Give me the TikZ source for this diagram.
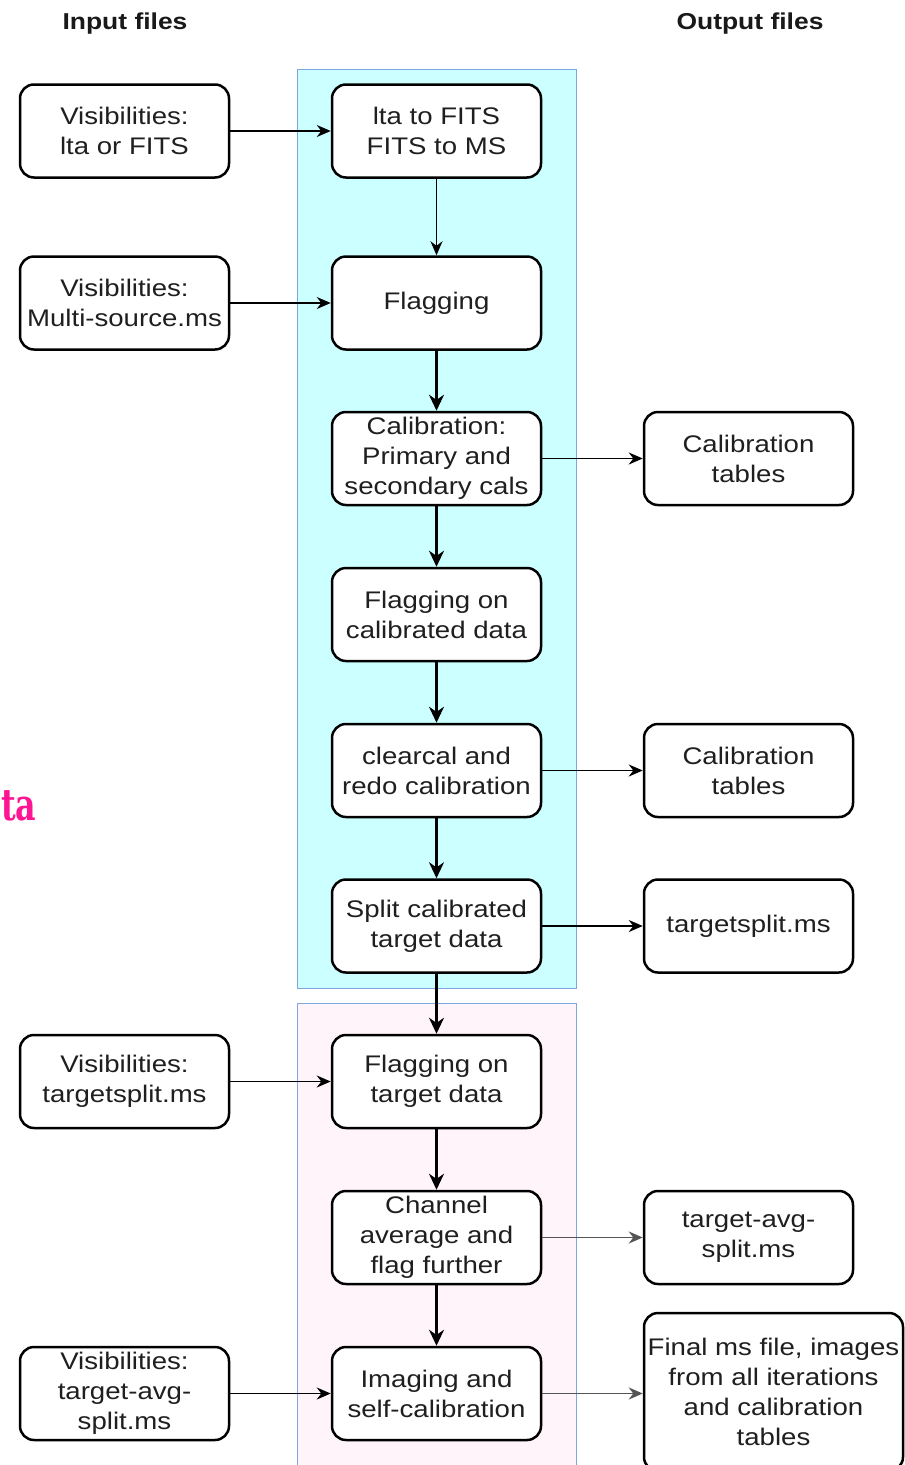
\documentclass[tikz,border=0pt]{standalone}
\usepackage{fontspec}
\setmainfont{Liberation Sans}[FakeStretch=1.15]
\newfontfamily\slabfont{DejaVu Serif}[FakeStretch=0.72]
\usetikzlibrary{arrows.meta}
\definecolor{cyanbg}{HTML}{CCFFFF}
\definecolor{pinkbg}{HTML}{FFF4FA}
\definecolor{grpline}{HTML}{7EA6E0}
\definecolor{magentatxt}{HTML}{FF1493}
\definecolor{grayarr}{HTML}{555555}
\begin{document}
\begin{tikzpicture}[x=1pt,y=-1pt,
  box/.style={draw=black, line width=2.5pt, rounded corners=14pt, fill=white,
    minimum width=209pt, minimum height=93pt, inner sep=0pt, align=center,
    font=\fontsize{24}{30}\selectfont, text=black!88},
  thinarr/.style={line width=1.6pt, -{Stealth[length=14pt,width=12pt]}},
  thickarr/.style={line width=3pt, -{Stealth[length=16pt,width=15pt]}},
  grayarrow/.style={thinarr, draw=grayarr},
  header/.style={font=\fontsize{23}{27}\selectfont\bfseries, text=black!90},
  group/.style={draw=grpline, line width=1pt}
]
\useasboundingbox (0,0) rectangle (905,1465);
\fill[white] (0,0) rectangle (905,1465);

% group backgrounds
\draw[group, fill=cyanbg] (297,69) rectangle (576,988);
\draw[group, fill=pinkbg] (297,1003) rectangle (576,1480);

% headers
\node[header] (hin) at (125,24) {Input files};
\node[header] (hout) at (750,24) {Output files};

% magenta text at the left edge
\node[anchor=west, inner sep=0pt, text=magentatxt, font=\fontsize{44}{50}\slabfont\bfseries] (cut) at (1,806) {ta};

% left column
\node[box] (L1) at (124.5,131) {Visibilities:\\lta or FITS};
\node[box] (L2) at (124.5,303) {Visibilities:\\Multi-source.ms};
\node[box] (L3) at (124.5,1081.5) {Visibilities:\\targetsplit.ms};
\node[box] (L4) at (124.5,1393.5) {Visibilities:\\target-avg-\\split.ms};

% middle column
\node[box] (M1) at (436.5,131) {lta to FITS\\FITS to MS};
\node[box] (M2) at (436.5,303) {Flagging};
\node[box] (M3) at (436.5,458.5) {Calibration:\\Primary and\\secondary cals};
\node[box] (M4) at (436.5,614.5) {Flagging on\\calibrated data};
\node[box] (M5) at (436.5,770.5) {clearcal and\\redo calibration};
\node[box] (M6) at (436.5,926) {Split calibrated\\target data};
\node[box] (M7) at (436.5,1081.5) {Flagging on\\target data};
\node[box] (M8) at (436.5,1237.5) {Channel\\average and\\flag further};
\node[box] (M9) at (436.5,1393.5) {Imaging and\\self-calibration};

% right column
\node[box] (R1) at (748.5,458.5) {Calibration\\tables};
\node[box] (R2) at (748.5,770.5) {Calibration\\tables};
\node[box] (R3) at (748.5,926) {targetsplit.ms};
\node[box] (R4) at (748.5,1237.5) {target-avg-\\split.ms};
\node[box, minimum width=259pt, minimum height=158pt] (R5) at (773.5,1392) {Final ms file, images\\from all iterations\\and calibration\\tables};

% input arrows
\draw[thinarr] (L1) -- (M1);
\draw[thinarr] (L2) -- (M2);
\draw[thinarr] (L3) -- (M7);
\draw[thinarr] (L4) -- (M9);

% main flow
\draw[thinarr] (M1) -- (M2);
\draw[thickarr] (M2) -- (M3);
\draw[thickarr] (M3) -- (M4);
\draw[thickarr] (M4) -- (M5);
\draw[thickarr] (M5) -- (M6);
\draw[thickarr] (M6) -- (M7);
\draw[thickarr] (M7) -- (M8);
\draw[thickarr] (M8) -- (M9);

% output arrows
\draw[thinarr] (M3) -- (R1);
\draw[thinarr] (M5) -- (R2);
\draw[thinarr] (M6) -- (R3);
\draw[grayarrow] (M8) -- (R4);
\draw[grayarrow] (M9.east) -- (M9.east -| R5.west);
\end{tikzpicture}
\end{document}
